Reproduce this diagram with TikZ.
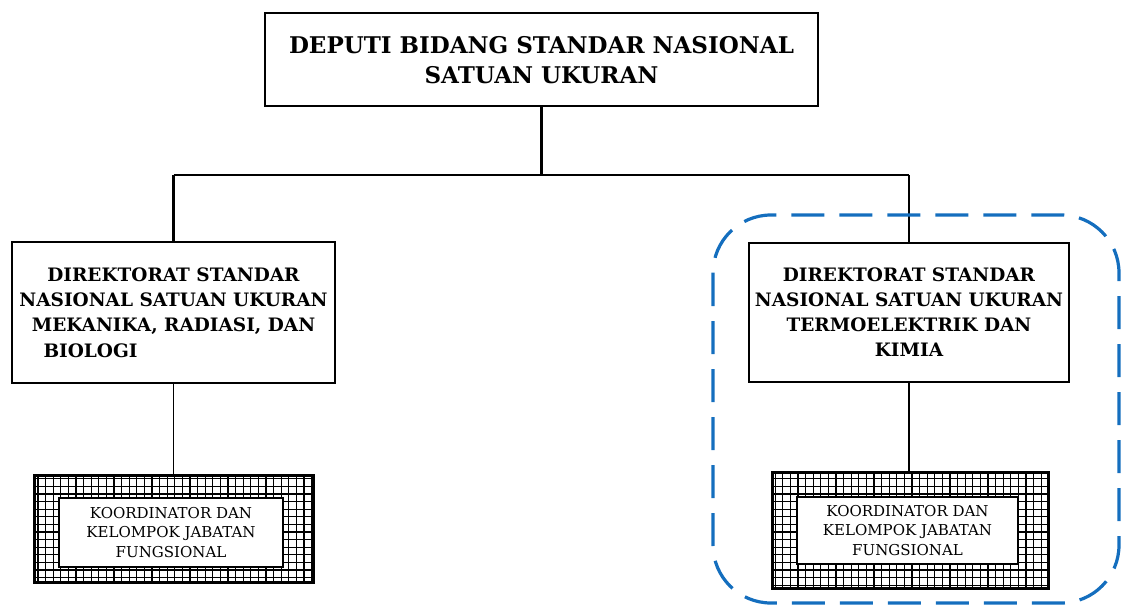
\documentclass[tikz,border=0pt]{standalone}
\usepackage{fontspec}
\setmainfont{DejaVu Serif}
\definecolor{dashblue}{RGB}{20,110,190}
\begin{document}
\begin{tikzpicture}[x=1pt,y=-1pt,
  box/.style={draw,line width=2.6pt,rectangle,inner sep=0pt,fill=white},
  inbox/.style={draw,line width=1.6pt,rectangle,inner sep=0pt,fill=white},
  gridbox/.style={draw,line width=1.6pt,rectangle,inner sep=0pt},
  conn/.style={line width=2.2pt},
  bigtxt/.style={font=\bfseries\fontsize{23}{30}\selectfont,align=center},
  midtxt/.style={font=\bfseries\fontsize{18.5}{25}\selectfont,align=center},
  smalltxt/.style={font=\fontsize{15}{19.5}\selectfont,align=center}]
\useasboundingbox (0,0) rectangle (1122,606);
% top
\node[box,minimum width=553pt,minimum height=93pt] (top) at (541.5,59.5) {};
\node[bigtxt] (toptxt) at (541.5,60) {DEPUTI BIDANG STANDAR NASIONAL\\SATUAN UKURAN};
% directorates
\node[box,minimum width=323pt,minimum height=141pt] (left) at (173.5,312.5) {};
\node[midtxt] (lefttxt) at (173.5,301) {DIREKTORAT STANDAR\\NASIONAL SATUAN UKURAN\\MEKANIKA, RADIASI, DAN};
\node[midtxt,anchor=west] (leftbio) at (40,351) {BIOLOGI};
\node[box,minimum width=320pt,minimum height=139pt] (right) at (909,312.5) {};
\node[midtxt] (righttxt) at (909,312) {DIREKTORAT STANDAR\\NASIONAL SATUAN UKURAN\\TERMOELEKTRIK DAN\\KIMIA};
% connectors
\coordinate (jl) at (173.5,175);
\coordinate (jr) at (909,175);
\draw[conn] (top.south) -- (top.south |- jl);
\draw[conn] (jl) -- (jr);
\draw[conn] (jl) -- (left.north);
\draw[conn] (jr) -- (right.north);
% grid boxes
\node[gridbox,minimum width=278pt,minimum height=106pt] (lgrid) at (174,529) {};
\node[gridbox,minimum width=275pt,minimum height=115pt] (rgrid) at (910.5,530.5) {};
\begin{scope}
\clip (lgrid.south west) rectangle (lgrid.north east);
\draw[line width=1.1pt,step=7.6pt] (lgrid.south west) grid (lgrid.north east);
\end{scope}
\begin{scope}
\clip (rgrid.south west) rectangle (rgrid.north east);
\draw[line width=1.1pt,step=7.6pt] (rgrid.south west) grid (rgrid.north east);
\end{scope}
\draw[line width=1.6pt] (lgrid.south west) rectangle (lgrid.north east);
\draw[line width=1.6pt] (rgrid.south west) rectangle (rgrid.north east);
\node[inbox,minimum width=224pt,minimum height=69pt] (linner) at (171,532.5) {};
\node[inbox,minimum width=221pt,minimum height=67pt] (rinner) at (907.5,530.5) {};
\node[smalltxt] (ltxt) at (linner) {KOORDINATOR DAN\\KELOMPOK JABATAN\\FUNGSIONAL};
\node[smalltxt] (rtxt) at (rinner) {KOORDINATOR DAN\\KELOMPOK JABATAN\\FUNGSIONAL};
\draw[conn,line width=1.8pt] (left.south) -- (left.south |- lgrid.north);
\draw[conn,line width=1.8pt] (right.south) -- (right.south |- rgrid.north);
% dashed highlight
\draw[dashblue,line width=3.2pt,rounded corners=58pt,dash pattern=on 33pt off 15pt] (713,215) rectangle (1119,603);
\end{tikzpicture}
\end{document}
